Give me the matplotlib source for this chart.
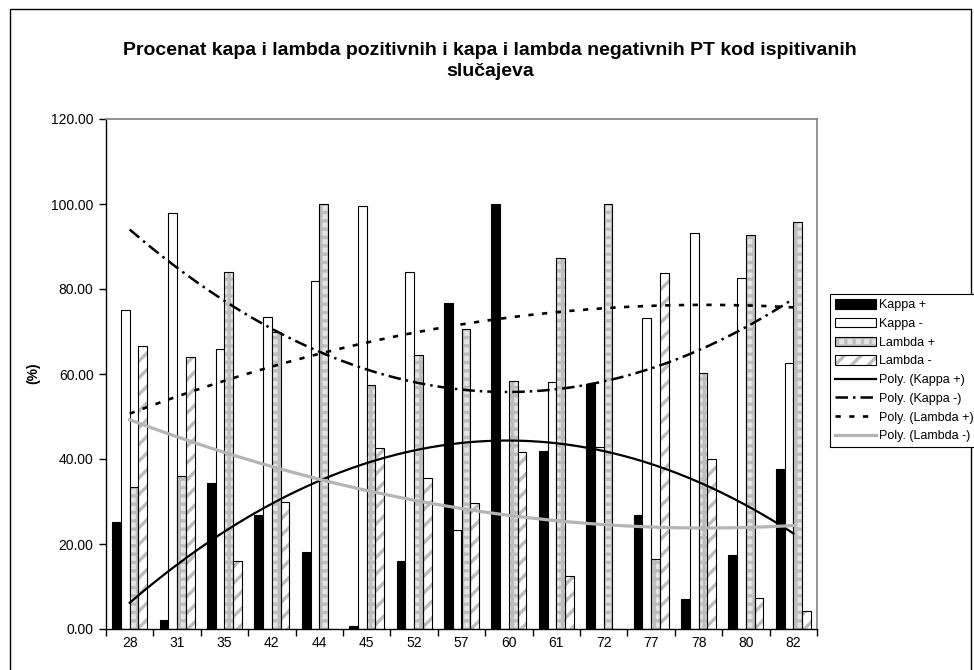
import numpy as np
import matplotlib
matplotlib.use("Agg")
import matplotlib.pyplot as plt
from matplotlib.patches import Patch, Rectangle
from matplotlib.lines import Line2D

# Ispitivani slucajevi (x-osa)
categories = ["28", "31", "35", "42", "44", "45", "52", "57", "60", "61", "72", "77", "78", "80", "82"]

# Procenti po slucaju
kappa_pos = [25.2, 2.1, 34.3, 26.8, 18.2, 0.7, 16.0, 76.8, 100.0, 41.9, 57.6, 26.8, 7.0, 17.4, 37.6]
kappa_neg = [75.0, 98.0, 65.8, 73.3, 81.9, 99.5, 84.1, 23.3, 0.0, 58.2, 42.9, 73.1, 93.1, 82.7, 62.7]
lambda_pos = [33.3, 35.9, 84.0, 69.8, 100.0, 57.5, 64.5, 70.5, 58.4, 87.4, 100.0, 16.4, 60.2, 92.8, 95.8]
lambda_neg = [66.6, 64.1, 16.0, 30.0, 0.0, 42.5, 35.5, 29.6, 41.7, 12.5, 0.0, 83.7, 39.9, 7.2, 4.2]

series_names = ["Kappa +", "Kappa -", "Lambda +", "Lambda -"]
title = ("Procenat kapa i lambda pozitivnih i kapa i lambda negativnih PT kod ispitivanih\n"
         "slučajeva")

plt.rcParams['font.family'] = ['Liberation Sans', 'DejaVu Sans']
plt.rcParams['hatch.linewidth'] = 2.4

fig = plt.figure(figsize=(9.74, 6.70), dpi=100)
ax = fig.add_axes([106 / 974, 1 - 629 / 670, (817 - 106) / 974, (629 - 119) / 670])

# okvir oko cijelog grafikona
fig.patches.append(Rectangle((10 / 974, -0.05), 961 / 974, 1.05 - 9 / 670,
                             transform=fig.transFigure, fill=False,
                             edgecolor="black", linewidth=1.0))

x = np.arange(len(categories))
w = 0.185
offsets = [-1.5 * w, -0.5 * w, 0.5 * w, 1.5 * w]
gray = "#bdbdbd"
check_bg = "#e4e4e4"

# Kappa +
ax.bar(x + offsets[0], kappa_pos, w, color="black", edgecolor="black", linewidth=0.8, zorder=2)
# Kappa -
ax.bar(x + offsets[1], kappa_neg, w, color="white", edgecolor="black", linewidth=0.8, zorder=2)
# Lambda + (karirano)
ax.bar(x + offsets[2], lambda_pos, w, color=check_bg, edgecolor=gray, linewidth=0, hatch="++", zorder=2)
ax.bar(x + offsets[2], lambda_pos, w, fill=False, edgecolor="black", linewidth=0.8, zorder=3)
# Lambda - (kose linije)
ax.bar(x + offsets[3], lambda_neg, w, color="white", edgecolor=gray, linewidth=0, hatch="//", zorder=2)
ax.bar(x + offsets[3], lambda_neg, w, fill=False, edgecolor="black", linewidth=0.8, zorder=3)

# polinomske trend linije (2. reda), kao u Excelu
xs = np.linspace(0, len(categories) - 1, 300)
trend_styles = [
    dict(color="black", linewidth=1.6, linestyle="-"),
    dict(color="black", linewidth=1.8, linestyle=(0, (5, 2, 1, 2))),
    dict(color="black", linewidth=1.9, linestyle=(0, (2, 3.2))),
    dict(color="#b5b5b5", linewidth=2.3, linestyle="-"),
]
for vals, st in zip([kappa_pos, kappa_neg, lambda_pos, lambda_neg], trend_styles):
    coef = np.polyfit(x, vals, 2)
    ax.plot(xs, np.polyval(coef, xs), zorder=4, **st)

ax.set_xlim(-0.5, len(categories) - 0.5)
ax.set_ylim(0, 120)
ax.set_yticks(np.arange(0, 121, 20))
ax.set_yticklabels([f"{v:.2f}" for v in np.arange(0, 121, 20)], fontsize=10)
ax.set_xticks(x)
ax.set_xticklabels(categories, fontsize=10)
ax.set_xticks(np.arange(-0.5, len(categories), 1), minor=True)
ax.tick_params(axis="x", which="major", length=0, pad=5)
ax.tick_params(axis="x", which="minor", length=5, direction="out", width=1)
ax.tick_params(axis="y", length=5, direction="out", width=1, pad=4)

for side in ["top", "right"]:
    ax.spines[side].set_color("#808080")
    ax.spines[side].set_linewidth(1.2)
for side in ["left", "bottom"]:
    ax.spines[side].set_color("black")
    ax.spines[side].set_linewidth(1.0)

fig.text(0.503, 1 - 61 / 670, title, ha="center", va="center",
         fontsize=14, fontweight="bold", linespacing=1.3)
fig.text(33 / 974, 1 - 373 / 670, "(%)", rotation=90, ha="center", va="center",
         fontsize=10, fontweight="bold")

handles = [
    Patch(facecolor="black", edgecolor="black", linewidth=0.8),
    Patch(facecolor="white", edgecolor="black", linewidth=0.8),
    (Patch(facecolor=check_bg, edgecolor=gray, linewidth=0, hatch="++"),
     Patch(fill=False, edgecolor="black", linewidth=0.8)),
    (Patch(facecolor="white", edgecolor=gray, linewidth=0, hatch="//"),
     Patch(fill=False, edgecolor="black", linewidth=0.8)),
]
for st in trend_styles:
    handles.append(Line2D([], [], **st))
labels = series_names + ["Poly. (" + n + ")" for n in series_names]

leg = fig.legend(handles, labels, loc="upper left", bbox_to_anchor=(830 / 974, 1 - 294 / 670),
                 bbox_transform=fig.transFigure, borderaxespad=0, fontsize=9,
                 handlelength=3.28, handleheight=0.8, handletextpad=0.25,
                 labelspacing=0.53, borderpad=0.4, fancybox=False,
                 edgecolor="black", framealpha=1)
leg.get_frame().set_linewidth(0.8)

fig.savefig("out.png", dpi=100)
